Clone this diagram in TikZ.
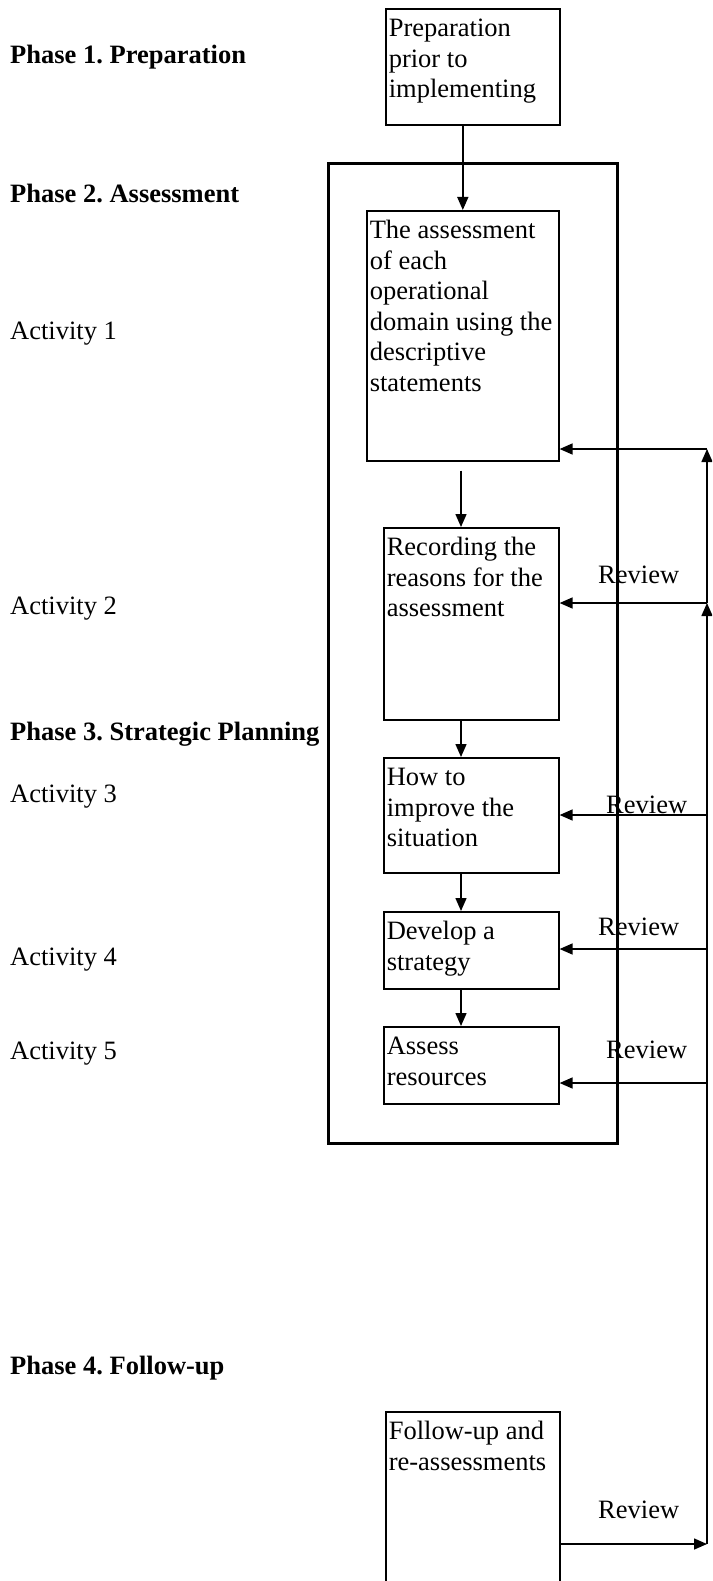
\documentclass[tikz,border=0pt]{standalone}
\usepackage{fontspec}
\setmainfont{Liberation Serif}
\usetikzlibrary{arrows.meta}
\frenchspacing

% text of a box, set from its top
\newcommand\boxtext[3]{\parbox[t][#2][t]{#1}{\raggedright\rule{0pt}{28pt}#3}}

\tikzset{
  every node/.style={font=\fontsize{26.5}{30.5}\selectfont},
  stage/.style={draw, line width=1.6pt, inner xsep=3pt, inner ysep=0pt, anchor=north west},
  phaseframe/.style={draw, line width=2.8pt, inner sep=0pt, anchor=north west},
  sidelabel/.style={anchor=base west, inner sep=0pt},
  flow/.style={line width=1.5pt, -{Triangle[length=13pt,width=11pt]}}
}

\begin{document}
\begin{tikzpicture}[x=1pt, y=-1pt]

  \useasboundingbox (0,0) rectangle (712,1581);
  \clip (0,0) rectangle (712,1581);

  \newcommand\Col{461}
  \newcommand\Rx{707}

  % phases and activities on the left
  \node[sidelabel] (ph1) at (10,64)   {\textbf{Phase 1. Preparation}};
  \node[sidelabel] (ph2) at (10,202)  {\textbf{Phase 2. Assessment}};
  \node[sidelabel] (act1) at (10,339) {Activity 1};
  \node[sidelabel] (act2) at (10,614) {Activity 2};
  \node[sidelabel] (ph3) at (10,740)  {\textbf{Phase 3. Strategic Planning}};
  \node[sidelabel] (act3) at (10,802) {Activity 3};
  \node[sidelabel] (act4) at (10,965) {Activity 4};
  \node[sidelabel] (act5) at (10,1059) {Activity 5};
  \node[sidelabel] (ph4) at (10,1374) {\textbf{Phase 4. Follow-up}};

  % frame round the assessment and planning
  \node[phaseframe, minimum width=289pt, minimum height=980pt] (frame) at (327,162) {};

  % the boxes
  \node[stage] (prep) at (385,8)
    {\boxtext{168pt}{116pt}{Preparation\\prior to\\implementing}};
  \node[stage] (assess) at (366,210)
    {\boxtext{186pt}{250pt}{The assessment\\of each\\operational\\domain using the\\descriptive\\statements}};
  \node[stage] (reasons) at (383,527)
    {\boxtext{169pt}{192pt}{Recording the\\reasons for the\\assessment}};
  \node[stage] (improve) at (383,757)
    {\boxtext{169pt}{115pt}{How to\\improve the\\situation}};
  \node[stage] (strategy) at (383,911)
    {\boxtext{169pt}{77pt}{Develop a\\strategy}};
  \node[stage] (resources) at (383,1026)
    {\boxtext{169pt}{77pt}{Assess\\resources}};
  \node[stage] (followup) at (385,1411)
    {\boxtext{168pt}{200pt}{Follow-up and\\re-assessments}};

  % down the middle
  \coordinate (col) at (\Col,0);
  \draw[flow] (assess.north |- prep.south) -- (assess.north);
  \draw[flow] ([yshift=-9pt]assess.south -| col) -- (reasons.north -| col);
  \draw[flow] (reasons.south -| col) -- (improve.north -| col);
  \draw[flow] (improve.south -| col) -- (strategy.north -| col);
  \draw[flow] (strategy.south -| col) -- (resources.north -| col);

  % review line on the right
  \coordinate (r1) at (\Rx,449);
  \coordinate (r2) at (\Rx,603);
  \coordinate (r3) at (\Rx,815);
  \coordinate (r4) at (\Rx,949);
  \coordinate (r5) at (\Rx,1083);
  \coordinate (r6) at (\Rx,1544);

  \draw[flow] (r6 -| followup.east) -- (r6);
  \draw[flow] (r6) -- (r2);
  \draw[flow] (r2) -- (r1);

  \draw[flow] (r1) -- (r1 -| assess.east);
  \draw[flow] (r2) -- (r2 -| reasons.east);
  \draw[flow] (r3) -- (r3 -| improve.east);
  \draw[flow] (r4) -- (r4 -| strategy.east);
  \draw[flow] (r5) -- (r5 -| resources.east);

  \node[sidelabel] (rev2) at (598,583)  {Review};
  \node[sidelabel] (rev3) at (606,813)  {Review};
  \node[sidelabel] (rev4) at (598,935)  {Review};
  \node[sidelabel] (rev5) at (606,1058) {Review};
  \node[sidelabel] (rev6) at (598,1518) {Review};

\end{tikzpicture}
\end{document}
